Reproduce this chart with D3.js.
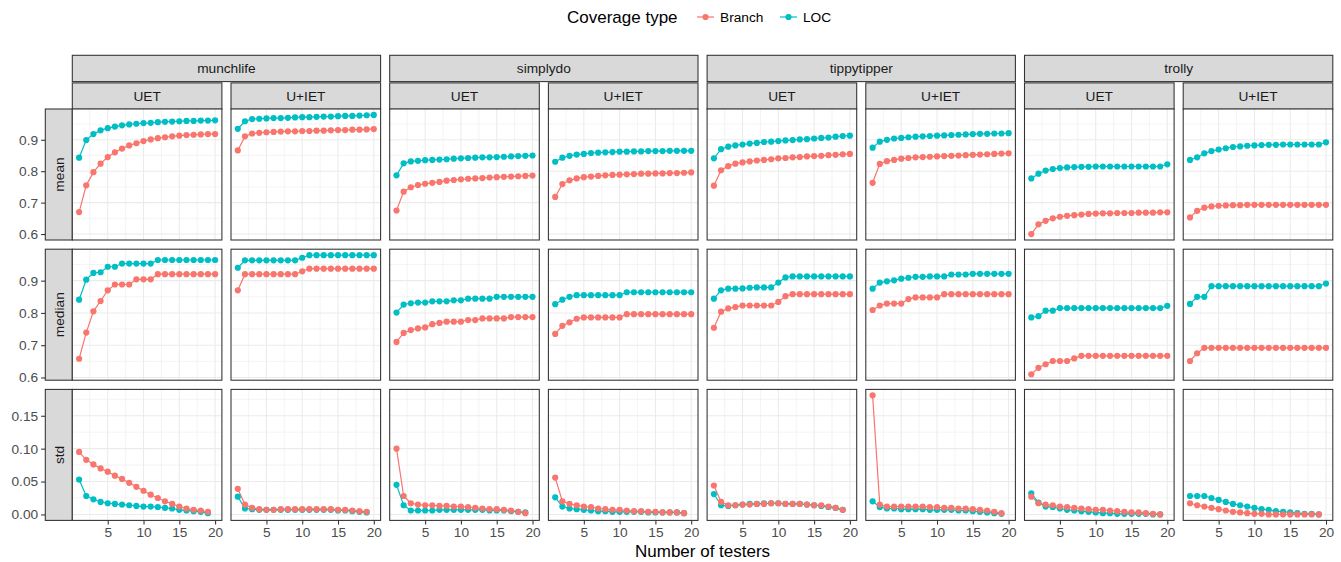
<!DOCTYPE html>
<html>
<head>
<meta charset="utf-8">
<script src="https://cdn.jsdelivr.net/npm/d3@7"></script>
<style>
  body { margin: 0; background: #fff; }
  svg { font-family: "Liberation Sans", Arial, sans-serif; }
</style>
</head>
<body>
<svg id="chart" width="1341" height="562"></svg>
<script>
// facets
const apps = ["munchlife", "simplydo", "tippytipper", "trolly"];
const testTypes = ["UET", "U+IET"];
const stats = ["mean", "median", "std"];
const coverageTypes = ["Branch", "LOC"];
const coverageColors = ["#F8766D", "#00BFC4"];

// x values (number of testers)
const testers = [1, 2, 3, 4, 5, 6, 7, 8, 9, 10, 11, 12, 13, 14, 15, 16, 17, 18, 19, 20];
const testersStd = [1, 2, 3, 4, 5, 6, 7, 8, 9, 10, 11, 12, 13, 14, 15, 16, 17, 18, 19];

// tick labels
const xTicks = [5, 10, 15, 20];
const xMinor = [2.5, 7.5, 12.5, 17.5];
const yTicksMean = [0.6, 0.7, 0.8, 0.9];
const yMinorMean = [0.65, 0.75, 0.85, 0.95];
const yTicksStd = [0, 0.05, 0.10, 0.15];
const yMinorStd = [0.025, 0.075, 0.125, 0.175];

// ---- mean ----
const munchlifeUetMeanBranch = [0.670,0.755,0.797,0.824,0.845,0.860,0.872,0.882,0.889,0.896,0.901,0.905,0.908,0.911,0.913,0.915,0.916,0.917,0.918,0.918];
const munchlifeUetMeanLoc    = [0.843,0.899,0.918,0.930,0.937,0.942,0.946,0.949,0.951,0.953,0.954,0.956,0.957,0.958,0.959,0.960,0.960,0.961,0.961,0.962];
const munchlifeUietMeanBranch = [0.866,0.911,0.920,0.922,0.924,0.925,0.926,0.927,0.927,0.928,0.928,0.929,0.929,0.930,0.931,0.931,0.932,0.932,0.933,0.934];
const munchlifeUietMeanLoc    = [0.935,0.959,0.966,0.967,0.968,0.969,0.969,0.970,0.971,0.972,0.972,0.973,0.974,0.974,0.975,0.976,0.976,0.977,0.978,0.979];

const simplydoUetMeanBranch = [0.675,0.735,0.749,0.756,0.760,0.763,0.766,0.770,0.772,0.774,0.776,0.777,0.778,0.780,0.781,0.782,0.783,0.784,0.785,0.786];
const simplydoUetMeanLoc    = [0.787,0.825,0.831,0.833,0.835,0.836,0.837,0.838,0.840,0.841,0.842,0.843,0.844,0.844,0.845,0.846,0.847,0.848,0.849,0.850];
const simplydoUietMeanBranch = [0.718,0.759,0.771,0.777,0.781,0.783,0.785,0.787,0.788,0.789,0.790,0.791,0.792,0.792,0.793,0.793,0.794,0.794,0.795,0.796];
const simplydoUietMeanLoc    = [0.830,0.843,0.849,0.853,0.855,0.858,0.859,0.860,0.861,0.862,0.862,0.863,0.863,0.864,0.864,0.864,0.865,0.865,0.865,0.865];

const tippytipperUetMeanBranch = [0.754,0.803,0.816,0.824,0.828,0.831,0.834,0.836,0.838,0.841,0.842,0.844,0.845,0.847,0.848,0.849,0.851,0.852,0.854,0.855];
const tippytipperUetMeanLoc    = [0.841,0.870,0.878,0.882,0.885,0.888,0.890,0.893,0.894,0.896,0.898,0.899,0.901,0.902,0.904,0.906,0.907,0.910,0.912,0.913];
const tippytipperUietMeanBranch = [0.763,0.823,0.832,0.836,0.840,0.842,0.844,0.845,0.846,0.847,0.848,0.849,0.850,0.851,0.852,0.853,0.854,0.855,0.856,0.857];
const tippytipperUietMeanLoc    = [0.875,0.894,0.900,0.904,0.906,0.908,0.910,0.911,0.912,0.913,0.914,0.915,0.916,0.917,0.918,0.919,0.919,0.920,0.920,0.921];

const trollyUetMeanBranch = [0.600,0.631,0.642,0.650,0.655,0.658,0.660,0.662,0.664,0.665,0.666,0.666,0.667,0.667,0.667,0.668,0.668,0.668,0.669,0.669];
const trollyUetMeanLoc    = [0.777,0.792,0.802,0.807,0.810,0.812,0.813,0.814,0.814,0.815,0.815,0.815,0.815,0.815,0.815,0.815,0.815,0.815,0.815,0.822];
const trollyUietMeanBranch = [0.653,0.674,0.684,0.688,0.690,0.691,0.692,0.692,0.693,0.693,0.693,0.693,0.693,0.693,0.693,0.693,0.693,0.693,0.693,0.693];
const trollyUietMeanLoc    = [0.836,0.844,0.857,0.864,0.869,0.873,0.877,0.879,0.881,0.882,0.883,0.884,0.884,0.885,0.885,0.885,0.885,0.885,0.885,0.892];

// ---- median ----
const munchlifeUetMedianBranch = [0.658,0.739,0.805,0.837,0.870,0.888,0.888,0.888,0.904,0.904,0.904,0.920,0.920,0.920,0.920,0.920,0.920,0.920,0.920,0.920];
const munchlifeUetMedianLoc    = [0.841,0.903,0.924,0.926,0.943,0.943,0.953,0.953,0.953,0.953,0.953,0.964,0.964,0.964,0.964,0.964,0.964,0.964,0.964,0.964];
const munchlifeUietMedianBranch = [0.870,0.920,0.920,0.920,0.920,0.920,0.920,0.920,0.920,0.929,0.937,0.937,0.937,0.937,0.937,0.937,0.937,0.937,0.937,0.937];
const munchlifeUietMedianLoc    = [0.940,0.963,0.963,0.963,0.963,0.963,0.963,0.963,0.963,0.971,0.979,0.979,0.979,0.979,0.979,0.979,0.979,0.979,0.979,0.979];

const simplydoUetMedianBranch = [0.710,0.738,0.747,0.752,0.755,0.765,0.769,0.773,0.773,0.773,0.778,0.778,0.783,0.783,0.783,0.783,0.787,0.787,0.787,0.787];
const simplydoUetMedianLoc    = [0.801,0.826,0.830,0.832,0.832,0.836,0.836,0.836,0.839,0.839,0.844,0.844,0.844,0.844,0.850,0.850,0.850,0.850,0.850,0.850];
const simplydoUietMedianBranch = [0.735,0.760,0.771,0.782,0.786,0.786,0.786,0.786,0.786,0.786,0.796,0.796,0.796,0.796,0.796,0.796,0.796,0.796,0.796,0.796];
const simplydoUietMedianLoc    = [0.827,0.841,0.850,0.855,0.855,0.855,0.855,0.855,0.855,0.855,0.864,0.864,0.864,0.864,0.864,0.864,0.864,0.864,0.864,0.864];

const tippytipperUetMedianBranch = [0.754,0.804,0.814,0.818,0.823,0.823,0.823,0.823,0.823,0.834,0.852,0.858,0.858,0.858,0.858,0.858,0.858,0.858,0.858,0.858];
const tippytipperUetMedianLoc    = [0.844,0.870,0.875,0.875,0.876,0.878,0.879,0.879,0.879,0.894,0.910,0.913,0.913,0.913,0.913,0.913,0.913,0.913,0.913,0.913];
const tippytipperUietMedianBranch = [0.809,0.823,0.829,0.829,0.829,0.843,0.848,0.848,0.848,0.848,0.858,0.858,0.858,0.858,0.858,0.858,0.858,0.858,0.858,0.858];
const tippytipperUietMedianLoc    = [0.875,0.894,0.898,0.901,0.906,0.909,0.912,0.912,0.913,0.913,0.913,0.919,0.919,0.919,0.921,0.921,0.921,0.921,0.921,0.921];

const trollyUetMedianBranch = [0.610,0.630,0.641,0.651,0.651,0.651,0.659,0.667,0.667,0.667,0.667,0.667,0.667,0.667,0.667,0.667,0.667,0.667,0.667,0.667];
const trollyUetMedianLoc    = [0.786,0.790,0.807,0.807,0.815,0.815,0.815,0.815,0.815,0.815,0.815,0.815,0.815,0.815,0.815,0.815,0.815,0.815,0.815,0.822];
const trollyUietMedianBranch = [0.651,0.675,0.692,0.692,0.692,0.692,0.692,0.692,0.692,0.692,0.692,0.692,0.692,0.692,0.692,0.692,0.692,0.692,0.692,0.692];
const trollyUietMedianLoc    = [0.828,0.850,0.850,0.883,0.883,0.883,0.883,0.883,0.883,0.883,0.883,0.883,0.883,0.883,0.883,0.883,0.883,0.883,0.883,0.891];

// ---- std ----
const munchlifeUetStdBranch = [0.095,0.083,0.076,0.070,0.065,0.059,0.054,0.048,0.042,0.036,0.030,0.025,0.020,0.016,0.012,0.009,0.007,0.006,0.004];
const munchlifeUetStdLoc    = [0.053,0.028,0.023,0.019,0.017,0.016,0.015,0.014,0.013,0.012,0.012,0.011,0.010,0.009,0.007,0.006,0.005,0.004,0.002];
const munchlifeUietStdBranch = [0.039,0.015,0.010,0.008,0.007,0.007,0.008,0.008,0.008,0.008,0.008,0.008,0.008,0.008,0.007,0.007,0.006,0.005,0.004];
const munchlifeUietStdLoc    = [0.027,0.009,0.008,0.007,0.007,0.007,0.007,0.007,0.007,0.007,0.007,0.007,0.007,0.007,0.006,0.006,0.005,0.004,0.003];

const simplydoUetStdBranch = [0.100,0.028,0.017,0.015,0.014,0.014,0.013,0.013,0.012,0.012,0.011,0.010,0.009,0.008,0.008,0.007,0.006,0.004,0.002];
const simplydoUetStdLoc    = [0.045,0.014,0.006,0.006,0.006,0.006,0.007,0.007,0.007,0.007,0.007,0.007,0.007,0.006,0.006,0.006,0.005,0.004,0.003];
const simplydoUietStdBranch = [0.056,0.020,0.016,0.014,0.012,0.011,0.009,0.008,0.007,0.007,0.006,0.005,0.005,0.004,0.004,0.003,0.003,0.003,0.002];
const simplydoUietStdLoc    = [0.026,0.012,0.009,0.008,0.007,0.006,0.005,0.005,0.004,0.004,0.004,0.004,0.004,0.003,0.003,0.003,0.003,0.003,0.002];

const tippytipperUetStdBranch = [0.044,0.019,0.014,0.014,0.015,0.015,0.016,0.016,0.017,0.017,0.016,0.016,0.016,0.015,0.014,0.014,0.012,0.010,0.007];
const tippytipperUetStdLoc    = [0.031,0.014,0.013,0.014,0.015,0.016,0.016,0.017,0.017,0.017,0.016,0.016,0.016,0.015,0.014,0.013,0.011,0.010,0.007];
const tippytipperUietStdBranch = [0.181,0.015,0.012,0.012,0.012,0.012,0.012,0.012,0.011,0.011,0.010,0.010,0.009,0.009,0.008,0.007,0.006,0.004,0.002];
const tippytipperUietStdLoc    = [0.020,0.011,0.009,0.009,0.008,0.008,0.008,0.008,0.007,0.007,0.007,0.007,0.006,0.006,0.005,0.004,0.003,0.002,0.001];

const trollyUetStdBranch = [0.027,0.017,0.015,0.014,0.012,0.011,0.010,0.009,0.008,0.007,0.007,0.006,0.005,0.004,0.003,0.003,0.002,0.001,0.000];
const trollyUetStdLoc    = [0.032,0.018,0.012,0.011,0.009,0.007,0.006,0.005,0.004,0.003,0.002,0.002,0.001,0.001,0.001,0.001,0.001,0.000,0.000];
const trollyUietStdBranch = [0.017,0.014,0.012,0.010,0.008,0.006,0.004,0.003,0.002,0.001,0.001,0.000,0.000,0.000,0.000,0.000,0.000,0.000,0.000];
const trollyUietStdLoc    = [0.028,0.028,0.028,0.025,0.022,0.019,0.016,0.014,0.012,0.010,0.008,0.007,0.005,0.004,0.003,0.002,0.001,0.001,0.000];

// lookup: app -> testType -> stat -> [branch, loc]
const series = {
  munchlife: {
    "UET":   { mean: [munchlifeUetMeanBranch, munchlifeUetMeanLoc], median: [munchlifeUetMedianBranch, munchlifeUetMedianLoc], std: [munchlifeUetStdBranch, munchlifeUetStdLoc] },
    "U+IET": { mean: [munchlifeUietMeanBranch, munchlifeUietMeanLoc], median: [munchlifeUietMedianBranch, munchlifeUietMedianLoc], std: [munchlifeUietStdBranch, munchlifeUietStdLoc] }
  },
  simplydo: {
    "UET":   { mean: [simplydoUetMeanBranch, simplydoUetMeanLoc], median: [simplydoUetMedianBranch, simplydoUetMedianLoc], std: [simplydoUetStdBranch, simplydoUetStdLoc] },
    "U+IET": { mean: [simplydoUietMeanBranch, simplydoUietMeanLoc], median: [simplydoUietMedianBranch, simplydoUietMedianLoc], std: [simplydoUietStdBranch, simplydoUietStdLoc] }
  },
  tippytipper: {
    "UET":   { mean: [tippytipperUetMeanBranch, tippytipperUetMeanLoc], median: [tippytipperUetMedianBranch, tippytipperUetMedianLoc], std: [tippytipperUetStdBranch, tippytipperUetStdLoc] },
    "U+IET": { mean: [tippytipperUietMeanBranch, tippytipperUietMeanLoc], median: [tippytipperUietMedianBranch, tippytipperUietMedianLoc], std: [tippytipperUietStdBranch, tippytipperUietStdLoc] }
  },
  trolly: {
    "UET":   { mean: [trollyUetMeanBranch, trollyUetMeanLoc], median: [trollyUetMedianBranch, trollyUetMedianLoc], std: [trollyUetStdBranch, trollyUetStdLoc] },
    "U+IET": { mean: [trollyUietMeanBranch, trollyUietMeanLoc], median: [trollyUietMedianBranch, trollyUietMedianLoc], std: [trollyUietStdBranch, trollyUietStdLoc] }
  }
};

// ---- layout ----
const svg = d3.select("#chart");
const panelLeft = 72.3, panelW = 149.6, colGap = 9.1;
const panelTop = 109, panelH = 131, rowGap = 9.2;
const stripH = 26.3;
const GRID = "#EBEBEB", BORDER = "#333333", STRIP = "#D9D9D9";
const FS = "13.7px";

// ggplot style: 5% expansion on data range
function expand(ext) {
  const pad = (ext[1] - ext[0]) * 0.05;
  return [ext[0] - pad, ext[1] + pad];
}

const x = d3.scaleLinear().domain(expand([1, 20])).range([0, panelW]);

const yScales = stats.map(stat => {
  const vals = [];
  apps.forEach(a => testTypes.forEach(t => series[a][t][stat].forEach(s => vals.push(...s))));
  return d3.scaleLinear().domain(expand(d3.extent(vals))).range([panelH, 0]);
});
const yTicks = [yTicksMean, yTicksMean, yTicksStd];
const yMinor = [yMinorMean, yMinorMean, yMinorStd];
const yFormat = [d3.format(".1f"), d3.format(".1f"), d3.format(".2f")];

const colX = i => panelLeft + i * (panelW + colGap);
const rowY = j => panelTop + j * (panelH + rowGap);

// top strips: app (spanning 2 panels) and test type
apps.forEach((app, ai) => {
  const x0 = colX(ai * 2), x1 = colX(ai * 2 + 1) + panelW;
  svg.append("rect").attr("x", x0).attr("y", 55.3).attr("width", x1 - x0).attr("height", stripH)
    .attr("fill", STRIP).attr("stroke", BORDER).attr("stroke-width", 1.07);
  svg.append("text").attr("x", (x0 + x1) / 2).attr("y", 55.3 + stripH / 2 + 5)
    .attr("text-anchor", "middle").style("font-size", FS).attr("fill", "#1A1A1A").text(app);
  testTypes.forEach((tt, ti) => {
    const cx = colX(ai * 2 + ti);
    svg.append("rect").attr("x", cx).attr("y", 82.9).attr("width", panelW).attr("height", stripH)
      .attr("fill", STRIP).attr("stroke", BORDER).attr("stroke-width", 1.07);
    svg.append("text").attr("x", cx + panelW / 2).attr("y", 82.9 + stripH / 2 + 5)
      .attr("text-anchor", "middle").style("font-size", FS).attr("fill", "#1A1A1A").text(tt);
  });
});

// row strips + y axes
stats.forEach((stat, si) => {
  const ry = rowY(si);
  svg.append("rect").attr("x", 45.3).attr("y", ry).attr("width", 27).attr("height", panelH)
    .attr("fill", STRIP).attr("stroke", BORDER).attr("stroke-width", 1.07);
  svg.append("text").attr("transform", `translate(${45.3 + 13.5 + 5},${ry + panelH / 2}) rotate(-90)`)
    .attr("text-anchor", "middle").style("font-size", FS).attr("fill", "#1A1A1A").text(stat);

  const ya = svg.append("g").attr("transform", `translate(45.3,${ry})`)
    .call(d3.axisLeft(yScales[si]).tickValues(yTicks[si]).tickFormat(yFormat[si]).tickSize(4.2).tickPadding(3));
  ya.select(".domain").remove();
  ya.selectAll("line").attr("stroke", BORDER).attr("stroke-width", 1.07);
  ya.selectAll("text").attr("fill", "#4D4D4D").style("font-size", FS).style("font-family", "Liberation Sans, Arial, sans-serif");
});

// panels
stats.forEach((stat, si) => {
  const y = yScales[si];
  apps.forEach((app, ai) => {
    testTypes.forEach((tt, ti) => {
      const g = svg.append("g").attr("transform", `translate(${colX(ai * 2 + ti)},${rowY(si)})`);
      g.append("rect").attr("width", panelW).attr("height", panelH).attr("fill", "#fff");

      // minor grid
      g.selectAll(".vmin").data(xMinor).enter().append("line")
        .attr("x1", d => x(d)).attr("x2", d => x(d)).attr("y1", 0).attr("y2", panelH)
        .attr("stroke", GRID).attr("stroke-width", 0.53);
      g.selectAll(".hmin").data(yMinor[si]).enter().append("line")
        .attr("x1", 0).attr("x2", panelW).attr("y1", d => y(d)).attr("y2", d => y(d))
        .attr("stroke", GRID).attr("stroke-width", 0.53);
      // major grid
      g.selectAll(".vmaj").data(xTicks).enter().append("line")
        .attr("x1", d => x(d)).attr("x2", d => x(d)).attr("y1", 0).attr("y2", panelH)
        .attr("stroke", GRID).attr("stroke-width", 1.07);
      g.selectAll(".hmaj").data(yTicks[si]).enter().append("line")
        .attr("x1", 0).attr("x2", panelW).attr("y1", d => y(d)).attr("y2", d => y(d))
        .attr("stroke", GRID).attr("stroke-width", 1.07);

      const xs = stat === "std" ? testersStd : testers;
      const pairs = series[app][tt][stat];
      const line = d3.line().x(d => x(d[0])).y(d => y(d[1]));

      // lines first, then points
      pairs.forEach((vals, ci) => {
        g.append("path").datum(xs.map((xv, k) => [xv, vals[k]]))
          .attr("d", line).attr("fill", "none")
          .attr("stroke", coverageColors[ci]).attr("stroke-width", 1.2);
      });
      [1, 0].forEach(ci => {
        g.selectAll(".pt" + ci).data(xs.map((xv, k) => [xv, pairs[ci][k]])).enter().append("circle")
          .attr("cx", d => x(d[0])).attr("cy", d => y(d[1])).attr("r", 3.1)
          .attr("fill", coverageColors[ci]);
      });

      g.append("rect").attr("width", panelW).attr("height", panelH)
        .attr("fill", "none").attr("stroke", BORDER).attr("stroke-width", 1.07);

      // x axis on bottom row
      if (si === stats.length - 1) {
        const xa = g.append("g").attr("transform", `translate(0,${panelH})`)
          .call(d3.axisBottom(x).tickValues(xTicks).tickSize(4.2).tickPadding(3));
        xa.select(".domain").remove();
        xa.selectAll("line").attr("stroke", BORDER).attr("stroke-width", 1.07);
        xa.selectAll("text").attr("fill", "#4D4D4D").style("font-size", FS).style("font-family", "Liberation Sans, Arial, sans-serif");
      }
    });
  });
});

// axis title
svg.append("text").attr("x", (colX(0) + colX(7) + panelW) / 2).attr("y", 557)
  .attr("text-anchor", "middle").style("font-size", "17px").attr("fill", "#000").text("Number of testers");

// legend
const lg = svg.append("g").attr("transform", "translate(567,17)");
lg.append("text").attr("x", 0).attr("y", 6).style("font-size", "17px").attr("fill", "#000").text("Coverage type");
const legendX = [130, 213];
coverageTypes.forEach((c, i) => {
  const k = lg.append("g").attr("transform", `translate(${legendX[i]},0)`);
  k.append("line").attr("x1", 0).attr("x2", 17).attr("y1", 0).attr("y2", 0)
    .attr("stroke", coverageColors[i]).attr("stroke-width", 1.2);
  k.append("circle").attr("cx", 8.5).attr("cy", 0).attr("r", 3.1).attr("fill", coverageColors[i]);
  k.append("text").attr("x", 23).attr("y", 5).style("font-size", FS).attr("fill", "#000").text(c);
});
</script>
</body>
</html>
